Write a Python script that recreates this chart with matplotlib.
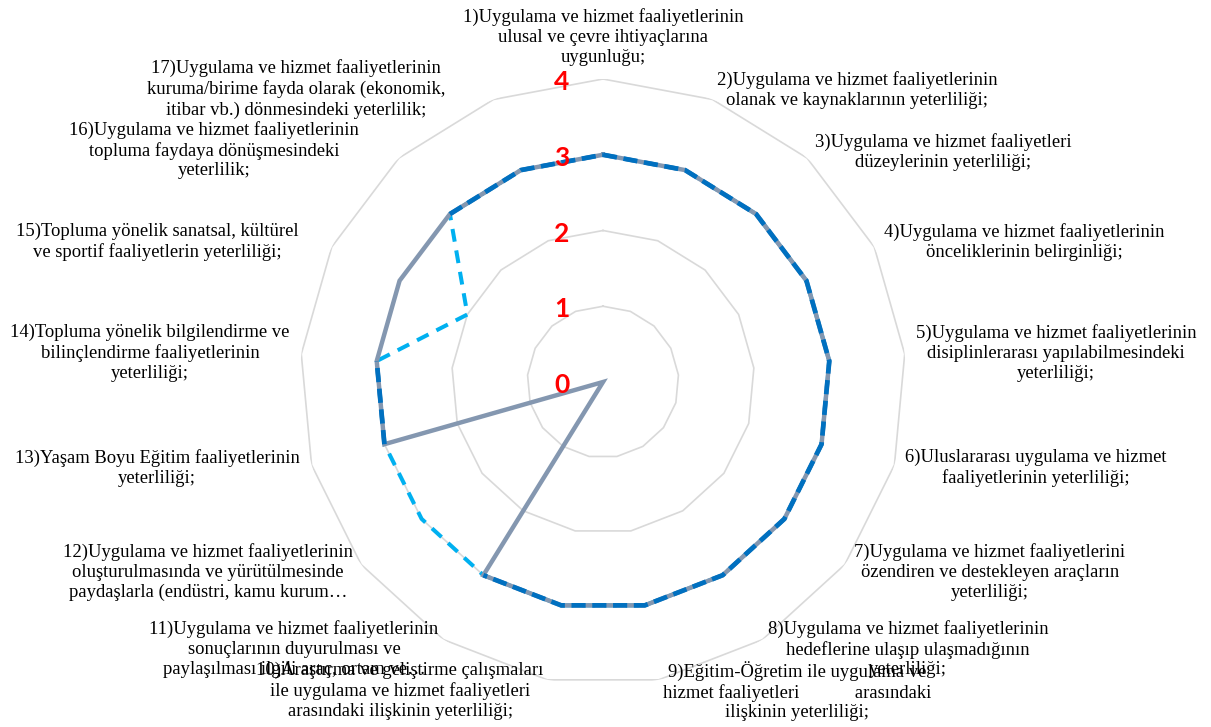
import numpy as np
import matplotlib
matplotlib.use("Agg")
import matplotlib.pyplot as plt

# ---------------- data ----------------
categories = [
    "1)Uygulama ve hizmet faaliyetlerinin\nulusal ve çevre ihtiyaçlarına\nuygunluğu;",
    "2)Uygulama ve hizmet faaliyetlerinin\nolanak ve kaynaklarının yeterliliği;",
    "3)Uygulama ve hizmet faaliyetleri\ndüzeylerinin yeterliliği;",
    "4)Uygulama ve hizmet faaliyetlerinin\nönceliklerinin belirginliği;",
    "5)Uygulama ve hizmet faaliyetlerinin\ndisiplinlerarası yapılabilmesindeki\nyeterliliği;",
    "6)Uluslararası uygulama ve hizmet\nfaaliyetlerinin yeterliliği;",
    "7)Uygulama ve hizmet faaliyetlerini\nözendiren ve destekleyen araçların\nyeterliliği;",
    "8)Uygulama ve hizmet faaliyetlerinin\nhedeflerine ulaşıp ulaşmadığının\nyeterliliği;",
    "9)Eğitim-Öğretim ile uygulama ve\nhizmet faaliyetleri            arasındaki\nilişkinin yeterliliği;",
    "10)Araştırma ve geliştirme çalışmaları\nile uygulama ve hizmet faaliyetleri\narasındaki ilişkinin yeterliliği;",
    "11)Uygulama ve hizmet faaliyetlerinin\nsonuçlarının duyurulması ve\npaylaşılması ilgili araç, ortam ve…",
    "12)Uygulama ve hizmet faaliyetlerinin\noluşturulmasında ve yürütülmesinde\npaydaşlarla (endüstri, kamu kurum…",
    "13)Yaşam Boyu Eğitim faaliyetlerinin\nyeterliliği;",
    "14)Topluma yönelik bilgilendirme ve\nbilinçlendirme faaliyetlerinin\nyeterliliği;",
    "15)Topluma yönelik sanatsal, kültürel\nve sportif faaliyetlerin yeterliliği;",
    "16)Uygulama ve hizmet faaliyetlerinin\ntopluma faydaya dönüşmesindeki\nyeterlilik;",
    "17)Uygulama ve hizmet faaliyetlerinin\nkuruma/birime fayda olarak (ekonomik,\nitibar vb.) dönmesindeki yeterlilik;",
]
series_light = [3, 3, 3, 3, 3, 3, 3, 3, 3, 3, 3, 3, 3, 3, 2, 3, 3]
series_gray = [3, 3, 3, 3, 3, 3, 3, 3, 3, 3, 3, 0, 3, 3, 3, 3, 3]
series_dark = [3, 3, 3, 3, 3, 3, 3, 3, 3, 3, 3, np.nan, 3, 3, np.nan, 3, 3]
r_ticks = [0, 1, 2, 3, 4]
r_tick_labels = ["0", "1", "2", "3", "4"]

# ---------------- layout ----------------
W, H = 1211, 727
fig = plt.figure(figsize=(W / 100, H / 100), dpi=100)
cx, cy, R = 603, 382, 303
ax = fig.add_axes([(cx - R) / W, (H - cy - R) / H, 2 * R / W, 2 * R / H],
                  projection="polar")
ax.set_theta_offset(np.pi / 2)
ax.set_theta_direction(-1)
ax.set_ylim(0, 4)
ax.grid(False)
ax.spines["polar"].set_visible(False)
ax.set_xticks([])
ax.set_yticks([])
ax.patch.set_alpha(0)

n = len(categories)
theta = np.linspace(0, 2 * np.pi, n, endpoint=False)
theta_c = np.append(theta, theta[0])

# polygon grid
for lvl in r_ticks[1:]:
    ax.plot(theta_c, [lvl] * (n + 1), color="#D9D9D9", lw=1.2, zorder=1)

def closed(v):
    return np.append(np.array(v, dtype=float), v[0])

ax.plot(theta_c, closed(series_light), color="#00B0F0", lw=2.9,
        ls=(0, (3.2, 2.2)), dash_capstyle="butt", zorder=2)
ax.plot(theta_c, closed(series_gray), color="#8497B0", lw=3.2,
        solid_joinstyle="miter", zorder=3)
ax.plot(theta_c, closed(series_dark), color="#0070C0", lw=3.4,
        ls=(0, (3.0, 1.4)), dash_capstyle="butt", zorder=4)

# radial labels
for v, lab in zip(r_ticks, r_tick_labels):
    ax.annotate(lab, xy=(0, v), xytext=(-41, -3), textcoords="offset pixels",
                ha="center", va="center", color="#FF0000", fontsize=19,
                fontweight="bold", family="Lato", zorder=5)

# category labels (pixel centers of text blocks)
label_pos = [(603, 37), (857, 90), (943, 152), (1024, 242), (1056, 353),
             (1036, 468), (990, 572), (908, 649), (797, 691), (400, 691),
             (294, 649), (208, 572), (157, 468), (150, 353), (157, 242),
             (214, 150), (296, 89)]
for txt, (px, py) in zip(categories, label_pos):
    fig.text(px / W, 1 - py / H, txt, ha="center", va="center",
             multialignment="center", family="Liberation Serif",
             fontsize=13.4, color="#000000", linespacing=1.22)

fig.savefig("out.png", dpi=100)
